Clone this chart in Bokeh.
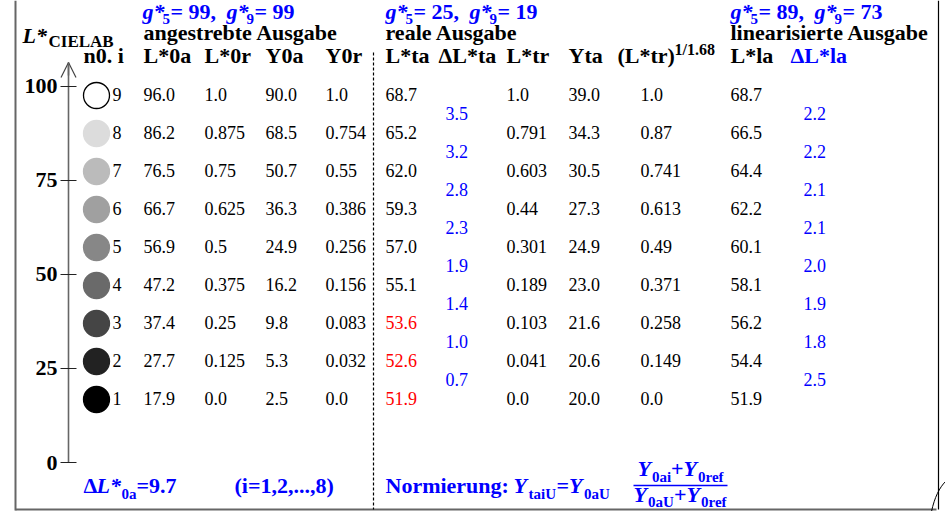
from bokeh.plotting import figure
from bokeh.models import Range1d, LinearAxis, FixedTicker, Arrow, OpenHead, ColumnDataSource
from bokeh.core.properties import value
from bokeh.embed import file_html
from bokeh.resources import INLINE

# ---------------- data ----------------
levels = [9, 8, 7, 6, 5, 4, 3, 2, 1]
gray_fill = ["#ffffff", "#dcdcdc", "#bbbbbb", "#a0a0a0", "#878787",
             "#6a6a6a", "#454545", "#222222", "#000000"]
L0a = [96.0, 86.2, 76.5, 66.7, 56.9, 47.2, 37.4, 27.7, 17.9]
L0r = [1.0, 0.875, 0.75, 0.625, 0.5, 0.375, 0.25, 0.125, 0.0]
Y0a = [90.0, 68.5, 50.7, 36.3, 24.9, 16.2, 9.8, 5.3, 2.5]
Y0r = [1.0, 0.754, 0.55, 0.386, 0.256, 0.156, 0.083, 0.032, 0.0]
Lta = [68.7, 65.2, 62.0, 59.3, 57.0, 55.1, 53.6, 52.6, 51.9]
Lta_red = [False, False, False, False, False, False, True, True, True]
dLta = [3.5, 3.2, 2.8, 2.3, 1.9, 1.4, 1.0, 0.7]
Ltr = [1.0, 0.791, 0.603, 0.44, 0.301, 0.189, 0.103, 0.041, 0.0]
Yta = [39.0, 34.3, 30.5, 27.3, 24.9, 23.0, 21.6, 20.6, 20.0]
Ltr168 = [1.0, 0.87, 0.741, 0.613, 0.49, 0.371, 0.258, 0.149, 0.0]
Lla = [68.7, 66.5, 64.4, 62.2, 60.1, 58.1, 56.2, 54.4, 51.9]
dLla = [2.2, 2.2, 2.1, 2.1, 2.0, 1.9, 1.8, 2.5]
g5 = [99, 25, 89]
g9 = [99, 19, 73]
L_ticks = [0, 25, 50, 75, 100]
dL0a = 9.7

# ---------------- layout ----------------
F = "Liberation Serif"
BLUE = "#0000ff"
RED = "#ff0000"
BIG, DAT, SUB = 22, 18, 15

W, H = 945, 511
p = figure(width=W, height=H, x_range=Range1d(0, 945), y_range=Range1d(511, 0),
           output_backend="svg", toolbar_location=None, min_border=0,
           x_axis_location=None, y_axis_location=None, outline_line_color=None)
p.grid.visible = False

# L* scale: reference pixel 462 -> 0, 85.8 -> 100
def Lval(py):
    return (462.0 - py) / 3.762

p.extra_y_ranges = {"L": Range1d(start=Lval(511), end=Lval(0))}

ax = LinearAxis(y_range_name="L", fixed_location=68, ticker=FixedTicker(ticks=L_ticks),
                bounds=(0, Lval(62)))
ax.axis_line_color = "#666666"
ax.axis_line_width = 1.6
ax.major_tick_in = 8
ax.major_tick_out = 8
ax.major_tick_line_color = "#222222"
ax.major_tick_line_width = 1.2
ax.minor_tick_line_color = None
ax.major_label_text_font = F
ax.major_label_text_font_style = "bold"
ax.major_label_text_font_size = "22px"
ax.major_label_text_color = "black"
ax.major_label_standoff = 3
p.add_layout(ax, "left")

p.add_layout(Arrow(end=OpenHead(size=15, line_color="#444444", line_width=1.2),
                   x_start=68, y_start=Lval(75), x_end=68, y_end=Lval(62),
                   y_range_name="L", line_color="#666666", line_width=1.6))

def txt(x, y, s, size, style="bold", color="black", align="left"):
    # y is the intended baseline (reference pixels); compensate renderer baseline offset
    p.text(x=[x], y=[y - 0.4 * size], text=[s], text_font=value(F),
           text_font_size=value(f"{size}px"), text_font_style=style, text_color=color,
           text_align=align, text_baseline="alphabetic")

# frame
p.segment(x0=[15, 15, 938], y0=[0, 509, 0], x1=[15, 936, 938], y1=[510, 509, 509],
          line_color=["#666666", "#666666", "#000000"], line_width=[2, 2, 1.2])
p.bezier(x0=[931], y0=[511], x1=[945], y1=[481], cx0=[934], cy0=[497], cx1=[939], cy1=[487],
         line_color="black", line_width=1)
# dashed separator
p.segment(x0=[373], y0=[52], x1=[373], y1=[509], line_color="black", line_width=1.2,
          line_dash="3 2")

# row positions
row_y = [94 + (9 - i) * 38 for i in levels]
mid_y = [(row_y[k] + row_y[k + 1]) / 2 for k in range(len(row_y) - 1)]

# circles
p.scatter(x=[96] * len(levels), y=[y + 1 for y in row_y], marker="circle", size=26,
          fill_color=gray_fill, line_color=["black"] + gray_fill[1:], line_width=1.3)

def fmt(v):
    return str(v)

def column(x, vals, ys, color="black", colors=None):
    src = ColumnDataSource(dict(x=[x] * len(vals), y=ys, t=[fmt(v) for v in vals],
                                c=colors if colors else [color] * len(vals)))
    p.text(x="x", y="y", text="t", source=src, text_font=value(F),
           text_font_size=value(f"{DAT}px"), text_color="c", text_baseline="middle")

column(112, levels, row_y)
column(143, L0a, row_y)
column(204, L0r, row_y)
column(265, Y0a, row_y)
column(325, Y0r, row_y)
column(385, Lta, row_y, colors=[RED if r else "black" for r in Lta_red])
column(445, dLta, mid_y, color=BLUE)
column(506, Ltr, row_y)
column(568, Yta, row_y)
column(640, Ltr168, row_y)
column(730, Lla, row_y)
column(803, dLla, mid_y, color=BLUE)

# g* headers
gb = 19.5
for x0, a, b in zip([142, 385, 730], g5, g9):
    txt(x0, gb, "g*", BIG, "bold italic", BLUE)
    txt(x0 + 20, gb + 5, "5", SUB, "bold", BLUE)
    txt(x0 + 28, gb, f"= {a},", BIG, "bold", BLUE)
    txt(x0 + 84, gb, "g*", BIG, "bold italic", BLUE)
    txt(x0 + 104, gb + 5, "9", SUB, "bold", BLUE)
    txt(x0 + 112, gb, f"= {b}", BIG, "bold", BLUE)

# second header line
txt(22, 44, "L*", BIG, "bold italic")
txt(48, 48, "CIELAB", 17, "bold")
txt(143, 41, "angestrebte Ausgabe", BIG)
txt(385, 41, "reale Ausgabe", BIG)
txt(730, 41, "linearisierte Ausgabe", BIG)

# column headers
hb = 64
txt(83, hb, "n0. i", BIG)
txt(143, hb, "L*0a", BIG)
txt(204, hb, "L*0r", BIG)
txt(265, hb, "Y0a", BIG)
txt(325, hb, "Y0r", BIG)
txt(385, hb, "L*ta", BIG)
txt(438, hb, "\u0394L*ta", BIG)
txt(506, hb, "L*tr", BIG)
txt(568, hb, "Yta", BIG)
txt(617, hb, "(L*tr)", BIG)
txt(674, 55, "1/1.68", 16, "bold")
txt(730, hb, "L*la", BIG)
txt(790, hb, "\u0394L*la", BIG, "bold", BLUE)

# bottom annotations
bb = 494
txt(83, bb, "\u0394", BIG, "bold", BLUE)
txt(96, bb, "L*", BIG, "bold italic", BLUE)
txt(121, bb + 5, "0a", SUB, "bold", BLUE)
txt(136, bb, f"={dL0a}", BIG, "bold", BLUE)
txt(234, bb, "(i=1,2,...,8)", BIG, "bold", BLUE)

txt(385, bb, "Normierung:", BIG, "bold", BLUE)
txt(513, bb, "Y", BIG, "bold italic", BLUE)
txt(528, bb + 5, "taiU", SUB, "bold", BLUE)
txt(556, bb, "=", BIG, "bold", BLUE)
txt(568.5, bb, "Y", BIG, "bold italic", BLUE)
txt(583.5, bb + 5, "0aU", SUB, "bold", BLUE)
# fraction
nb, db = 477, 503
txt(637, nb, "Y", BIG, "bold italic", BLUE)
txt(651.5, nb + 5, "0ai", SUB, "bold", BLUE)
txt(670.5, nb, "+", BIG, "bold", BLUE)
txt(683, nb, "Y", BIG, "bold italic", BLUE)
txt(697.5, nb + 5, "0ref", SUB, "bold", BLUE)
p.segment(x0=[633], y0=[485], x1=[727], y1=[485], line_color=BLUE, line_width=1.5)
txt(633, db, "Y", BIG, "bold italic", BLUE)
txt(647.5, db + 4, "0aU", SUB, "bold", BLUE)
txt(673.5, db, "+", BIG, "bold", BLUE)
txt(686, db, "Y", BIG, "bold italic", BLUE)
txt(700.5, db + 4, "0ref", SUB, "bold", BLUE)

open("out.html", "w").write(file_html(p, INLINE))
